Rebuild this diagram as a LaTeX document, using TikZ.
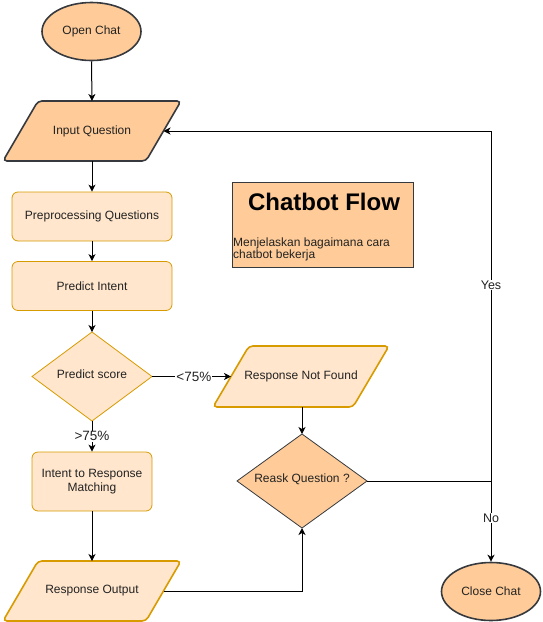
\documentclass[tikz,border=0pt]{standalone}
\usepackage{fontspec}
\setmainfont{Liberation Sans}
\usetikzlibrary{arrows.meta,shapes.geometric}
\definecolor{darkstroke}{HTML}{36393D}
\definecolor{orangefill}{HTML}{FFCC99}
\definecolor{lightfill}{HTML}{FFE6CC}
\definecolor{orangestroke}{HTML}{D79B00}
\definecolor{textgray}{HTML}{222222}
\tikzset{
  txt/.style={font=\fontsize{12}{14}\selectfont, text=textgray, align=center, inner sep=0pt},
  lbl/.style={font=\fontsize{13.5}{15}\selectfont, text=textgray, fill=white, inner sep=1pt},
  flow/.style={draw=black, line width=1pt, -{Stealth[length=7pt,width=7pt,inset=2pt]}},
  plain/.style={draw=black, line width=1pt},
  darkterm/.style={ellipse, draw=darkstroke, line width=1.6pt, fill=orangefill, inner sep=0pt, minimum width=99pt, minimum height=58pt, txt},
  darkio/.style={draw=darkstroke, line width=1.6pt, fill=orangefill, rounded corners=4pt},
  lightio/.style={draw=orangestroke, line width=1.6pt, fill=lightfill, rounded corners=4pt},
  lightbox/.style={rectangle, rounded corners=6pt, draw=orangestroke, line width=0.8pt, fill=lightfill, txt, minimum width=160pt, minimum height=49pt},
  lightdia/.style={draw=orangestroke, line width=0.8pt, fill=lightfill},
  darkdia/.style={draw=darkstroke, line width=0.8pt, fill=orangefill}
}
\begin{document}
\begin{tikzpicture}[x=1pt,y=-1pt]
\useasboundingbox (0,0) rectangle (542,622);

% Open Chat
\node[darkterm] (open) at (91.5,31.5) {Open Chat};

% Input Question
\draw[darkio] (38,101) -- (181,101) -- (146,161) -- (3,161) -- cycle;
\node[txt] (inq) at (92,131) {Input Question};
\coordinate (inqN) at (92,101);
\coordinate (inqS) at (92,161);
\coordinate (inqE) at (163.5,131);

% Preprocessing
\node[lightbox] (pre) at (92,216.5) {Preprocessing Questions};
% Predict Intent
\node[lightbox] (intent) at (92,286) {Predict Intent};

% Predict score diamond
\draw[lightdia] (32,376.5) -- (92,332) -- (152,376.5) -- (92,421) -- cycle;
\node[txt] (score) at (92,374) {Predict score};
\coordinate (scoreN) at (92,332);
\coordinate (scoreS) at (92,421);
\coordinate (scoreE) at (152,376.5);

% Intent to Response Matching
\node[lightbox, minimum width=120pt, minimum height=59pt] (match) at (92,481.5) {Intent to Response\\Matching};

% Response Output
\draw[lightio] (38,561) -- (181,561) -- (146,621) -- (3,621) -- cycle;
\node[txt] (rout) at (92,591) {Response Output};
\coordinate (routN) at (92,561);
\coordinate (routE) at (163.5,591);

% Response Not Found
\draw[lightio] (249,346) -- (389,346) -- (353,407) -- (213,407) -- cycle;
\node[txt] (rnf) at (301,376) {Response Not Found};
\coordinate (rnfW) at (231,376.5);
\coordinate (rnfS) at (302,407);

% Reask diamond
\draw[darkdia] (237,481) -- (302,434) -- (367,481) -- (302,528) -- cycle;
\node[txt] (reask) at (302,479) {Reask Question ?};
\coordinate (reaskN) at (302,434);
\coordinate (reaskS) at (302,528);
\coordinate (reaskE) at (367,481);
\coordinate (turn) at (491,481);

% Close Chat
\node[darkterm] (close) at (491,591.5) {Close Chat};

% Chatbot Flow box
\node[rectangle, draw=darkstroke, line width=0.8pt, fill=orangefill, minimum width=181pt, minimum height=85pt, inner sep=0pt] (cbox) at (322.5,224.5) {};
\node[font=\bfseries\fontsize{24}{28}\selectfont, text=black, anchor=base, inner sep=0pt] (title) at (324,210) {Chatbot Flow};
\node[font=\fontsize{12}{12}\selectfont, text=textgray, anchor=base west, align=left, inner sep=0pt] (desc) at (233,258) {Menjelaskan bagaimana cara\\chatbot bekerja};

% connectors
\draw[flow] (open.south) -- (inqN);
\draw[flow] (inqS) -- (pre.north);
\draw[flow] (pre.south) -- (intent.north);
\draw[flow] (intent.south) -- (scoreN);
\draw[flow] (scoreS) -- node[lbl, pos=0.5] {>75\%} (match.north);
\draw[flow] (scoreE) -- node[lbl, pos=0.53] {<75\%} (rnfW);
\draw[flow] (match.south) -- (routN);
\draw[flow] (rnfS) -- (reaskN);
\draw[flow] (routE) -| (reaskS);
\draw[flow] (reaskE) -- (turn) |- node[lbl, pos=0.28, font=\fontsize{12.5}{14}\selectfont] {Yes} (inqE);
\draw[flow] (reaskE) -| node[lbl, pos=0.73, font=\fontsize{12.5}{14}\selectfont] {No} (close.north);
\end{tikzpicture}
\end{document}
